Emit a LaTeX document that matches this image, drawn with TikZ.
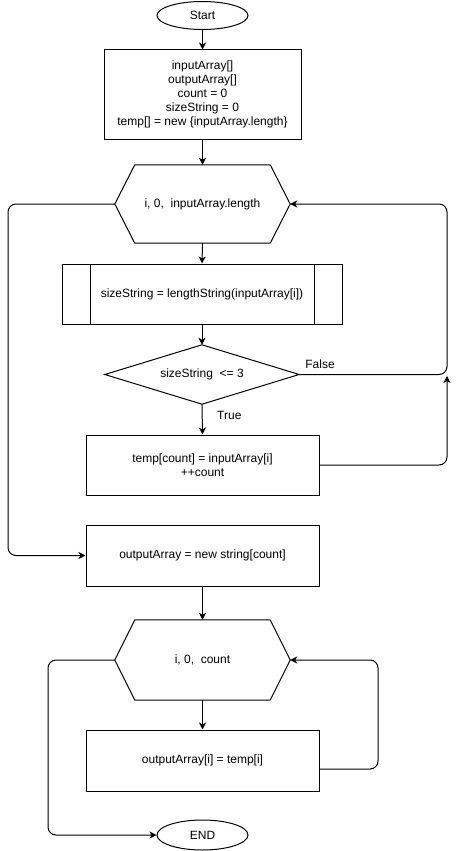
\documentclass[tikz,border=0pt]{standalone}
\usepackage{fontspec}
\setmainfont{Liberation Sans}
\usetikzlibrary{arrows.meta,shapes.geometric}
\begin{document}
\begin{tikzpicture}[x=1pt,y=-1pt,
  every node/.style={font=\fontsize{12}{14}\selectfont, inner sep=0pt, align=center},
  flow/.style={draw=black, line width=1pt},
  box/.style={flow, rectangle, minimum width=233pt, minimum height=60pt},
  term/.style={flow, ellipse, minimum width=91pt, minimum height=28pt},
  hexnode/.style={minimum width=175pt, minimum height=78pt},
  arr/.style={line width=1pt, rounded corners=8pt, -{Stealth[length=7pt,width=7pt,inset=2pt]}},
]
\useasboundingbox[fill=white] (0,0) rectangle (456,851);

% nodes
\node[term] (start) at (202.5,15.5) {Start};
\node[box, minimum width=197pt, minimum height=89pt] (init) at (202.5,94.5)
  {inputArray[]\\outputArray[]\\count = 0\\sizeString = 0\\temp[] = new \{inputArray.length\}};
\node[hexnode] (h1) at (202.5,204) {i, 0,\ \ inputArray.length};
\draw[flow] (h1.west) -- ([xshift=20pt]h1.north west) -- ([xshift=-20pt]h1.north east)
  -- (h1.east) -- ([xshift=-20pt]h1.south east) -- ([xshift=20pt]h1.south west) -- cycle;
\node[box, minimum width=280pt] (proc) at (202,294) {sizeString = lengthString(inputArray[i])};
\draw[flow] ([xshift=29pt]proc.north west) -- ([xshift=29pt]proc.south west);
\draw[flow] ([xshift=-28pt]proc.north east) -- ([xshift=-28pt]proc.south east);
\node[minimum width=194pt, minimum height=59pt] (dia) at (202,374.5) {sizeString\ \ <= 3};
\draw[flow] (dia.north) -- (dia.east) -- (dia.south) -- (dia.west) -- cycle;
\node[box] (temp) at (202.5,465) {temp[count] = inputArray[i]\\++count};
\node[box, minimum height=61pt] (out) at (202.5,555.5) {outputArray = new string[count]};
\node[hexnode, minimum height=80pt] (h2) at (202.5,660) {i, 0,\ \ count};
\draw[flow] (h2.west) -- ([xshift=20pt]h2.north west) -- ([xshift=-20pt]h2.north east)
  -- (h2.east) -- ([xshift=-20pt]h2.south east) -- ([xshift=20pt]h2.south west) -- cycle;
\node[box, minimum height=61pt] (out2) at (202.5,760.5) {outputArray[i] = temp[i]};
\node[term, minimum height=30pt] (end) at (202.5,835) {END};

% labels
\node (fl) at (320,364) {False};
\node[anchor=west] (tl) at (217,415) {True};

% routing columns
\coordinate (rr) at (447,0);
\coordinate (ll) at (8,0);
\coordinate (bl) at (48,0);
\coordinate (br) at (378,0);
\coordinate (joinpt) at (447,376);
\coordinate (o2exit) at ([yshift=-8.5pt]out2.east);

% connectors
\draw[arr] (start.south) -- (init.north);
\draw[arr] (init.south) -- (h1.north);
\draw[arr] (h1.south) -- (proc.north);
\draw[arr] (proc.south) -- (dia.north);
\draw[arr] (dia.south) -- (temp.north);
\draw[arr] (dia.east) -- (dia.east -| rr) -- (h1.east -| rr) -- (h1.east);
\draw[arr] (temp.east) -| (joinpt);
\draw[arr] (h1.west) -- (h1.west -| ll) -- (out.west -| ll) -- (out.west);
\draw[arr] (out.south) -- (h2.north);
\draw[arr] (h2.south) -- (out2.north);
\draw[arr] (o2exit) -- (o2exit -| br) -- (h2.east -| br) -- (h2.east);
\draw[arr] (h2.west) -- (h2.west -| bl) -- (end.west -| bl) -- (end.west);
\end{tikzpicture}
\end{document}
